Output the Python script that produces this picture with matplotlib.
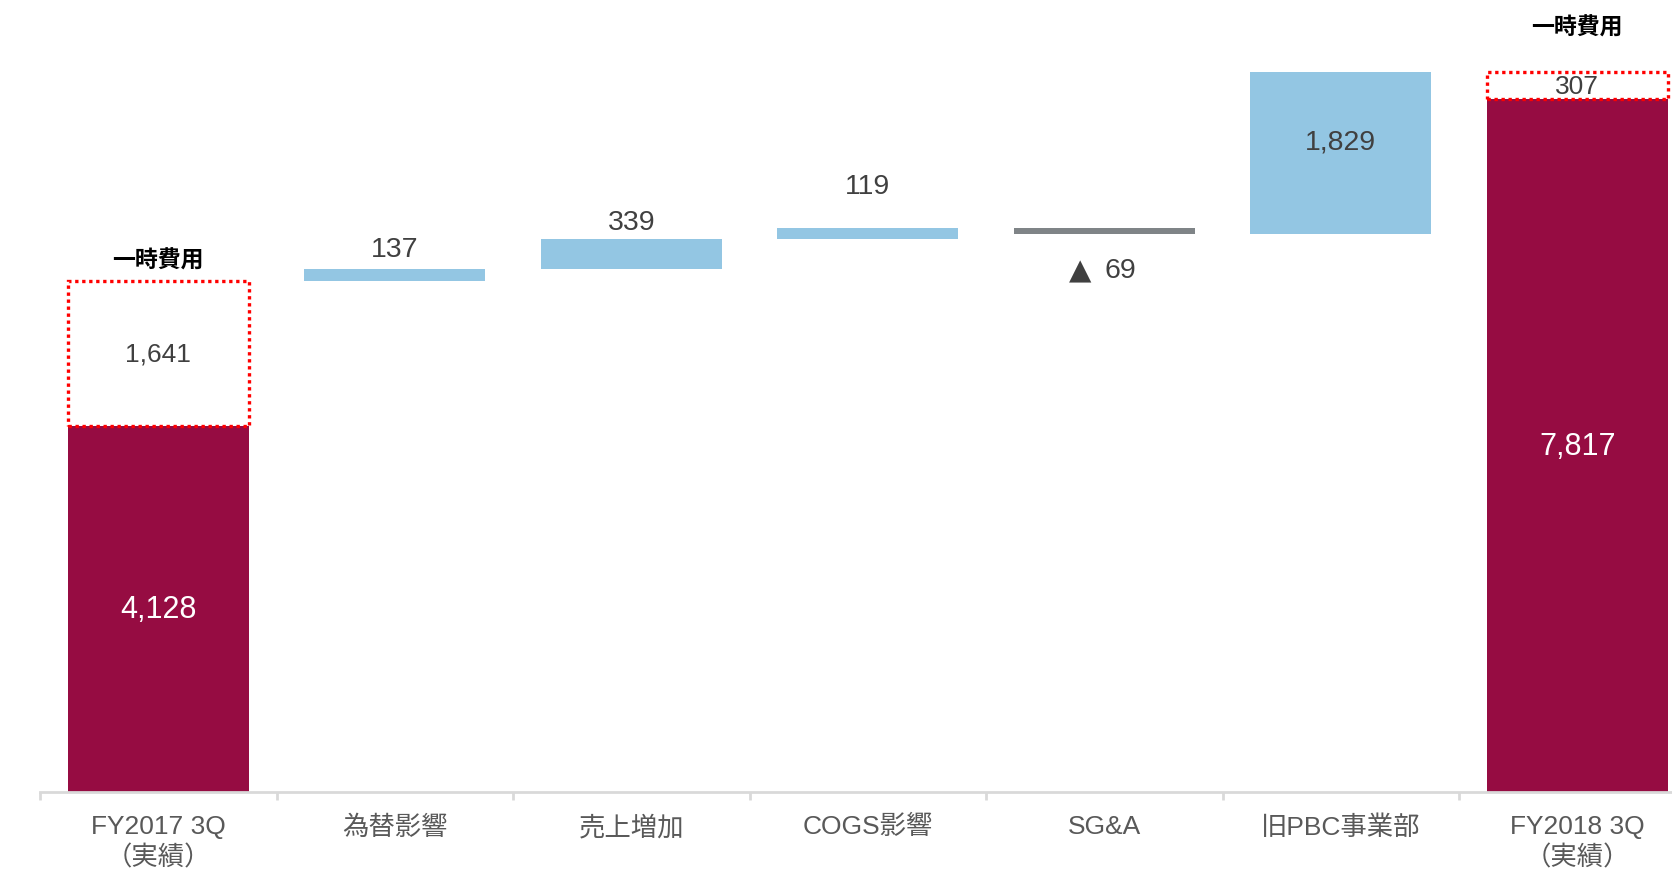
import numpy as np
import matplotlib
matplotlib.use("Agg")
import matplotlib.pyplot as plt

plt.rcParams['font.family'] = ['Liberation Sans', 'Noto Sans CJK JP', 'DejaVu Sans']

# data
categories = ['FY2017 3Q\n（実績）', '為替影響', '売上増加', 'COGS影響', 'SG&A', '旧PBC事業部', 'FY2018 3Q\n（実績）']
start_base = 4128
start_onetime = 1641
deltas = [137, 339, 119, -69, 1829]
end_base = 7817
end_onetime = 307
onetime_label = '一時費用'

RED = '#960C42'
BLUE = '#93C6E3'
GRAY = '#7F8487'
TXT = '#404040'

W, H = 1672, 870
fig = plt.figure(figsize=(W / 100, H / 100), dpi=100)
slot = 236.5
ax = fig.add_axes([40 / W, 77 / H, 7 * slot / W, 793 / H])
ax.set_xlim(-0.5, 6.5)
ax.set_ylim(0, 793 / 0.0886)

bw = 0.766
x = np.arange(len(categories))

# start / end columns
ax.bar(x[0], start_base, width=bw, color=RED, zorder=2)
ax.bar(x[-1], end_base, width=bw, color=RED, zorder=2)
dot = (0, (1, 1.1))
ax.bar(x[0], start_onetime, bottom=start_base, width=bw, fill=False,
       edgecolor='#FF0000', linestyle=dot, linewidth=2.4, zorder=3)
ax.bar(x[-1], end_onetime, bottom=end_base, width=bw, fill=False,
       edgecolor='#FF0000', linestyle=dot, linewidth=2.4, zorder=3)

# floating steps
level = start_base + start_onetime
tops = []
for i, d in enumerate(deltas):
    lo = level if d > 0 else level + d
    ax.bar(x[i + 1], abs(d), bottom=lo, width=bw,
           color=BLUE if d > 0 else GRAY, zorder=2)
    tops.append((lo, lo + abs(d)))
    level += d

px = 1 / 0.0886  # data units per pixel
# labels for the step bars (pixel offsets)
lab_dy = [20, 17, 42, -36, 0]
for i, d in enumerate(deltas):
    lo, hi = tops[i]
    if i == 4:
        y = (lo + hi) / 2 + 12 * px
        txt = f'{d:,}'
    elif d > 0:
        y = hi + lab_dy[i] * px
        txt = f'{d:,}'
    else:
        y = lo + lab_dy[i] * px
        txt = f'{abs(d):,}'
        ax.text(x[i + 1] - 0.055, y, '▲', ha='right', va='center', fontsize=21,
                color=TXT, family=['DejaVu Sans'])
    ax.text(x[i + 1] + (0.07 if d < 0 else 0), y, txt,
            ha='center', va='center', fontsize=20.5, color=TXT)

ax.text(x[0], start_base / 2, f'{start_base:,}', ha='center', va='center',
        fontsize=22, color='white')
ax.text(x[-1], end_base / 2, f'{end_base:,}', ha='center', va='center',
        fontsize=22, color='white')
ax.text(x[0], start_base + start_onetime / 2, f'{start_onetime:,}', ha='center',
        va='center', fontsize=19, color=TXT)
ax.text(x[-1], end_base + end_onetime / 2, f'{end_onetime:,}', ha='center',
        va='center', fontsize=19, color=TXT)
ax.text(x[0], start_base + start_onetime + 21 * px, onetime_label, ha='center',
        va='center', fontsize=16.5, fontweight='bold', color='black',
        family=['Noto Sans CJK JP'])
ax.text(x[-1], end_base + end_onetime + 45 * px, onetime_label, ha='center',
        va='center', fontsize=16.5, fontweight='bold', color='black',
        family=['Noto Sans CJK JP'])

# axis styling
for s in ['top', 'right', 'left']:
    ax.spines[s].set_visible(False)
ax.spines['bottom'].set_color('#D9D9D9')
ax.spines['bottom'].set_linewidth(2)
ax.set_yticks([])
ax.set_xticks(x)
ax.set_xticklabels(categories, fontsize=19, color='#595959', linespacing=1.3)
ax.tick_params(axis='x', which='major', length=0, pad=16)
ax.set_xticks(np.arange(-0.5, 7, 1), minor=True)
ax.tick_params(axis='x', which='minor', length=6, width=2, color='#D9D9D9', direction='out')

fig.savefig('out.png', dpi=100)
